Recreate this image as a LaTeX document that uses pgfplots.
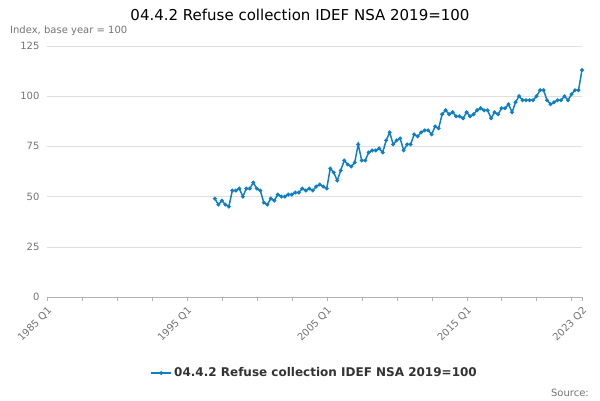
\documentclass[border=0pt]{standalone}
\usepackage{pgfplots}
\pgfplotsset{compat=1.18}
\usepackage{fontspec}
\setmainfont{DejaVu Sans}
\definecolor{ons}{HTML}{0F7FC5}
\begin{document}
\begin{tikzpicture}
\path[use as bounding box] (0,0) rectangle (600pt,400pt);
\node[anchor=north] at (300pt,394pt) {\fontsize{15}{17}\selectfont 04.4.2 Refuse collection IDEF NSA 2019=100};
\node[anchor=north west,text=gray!90!black,inner sep=0] at (10pt,374pt) {\fontsize{10}{12}\selectfont Index, base year = 100};
\node[anchor=south east,text=gray!90!black,inner sep=0] at (589pt,3pt) {\fontsize{10}{12}\selectfont Source:};
\begin{axis}[
  at={(47pt,103pt)}, anchor=south west,
  width=535pt, height=251pt, scale only axis,
  xmin=0, xmax=153, ymin=0, ymax=125,
  axis line style={draw=none},
  axis x line*=bottom,
  x axis line style={draw=gray!60},
  ytick={0,25,...,125},
  ymajorgrids, grid style={gray!25},
  major y tick style={draw=none},
  xtick={0,40,80,120,153},
  xticklabels={1985 Q1,1995 Q1,2005 Q1,2015 Q1,2023 Q2},
  minor xtick={10,20,30,50,60,70,90,100,110,130,140,150},
  x tick label style={rotate=45,anchor=north east,font=\fontsize{10}{12}\selectfont,text=gray!90!black},
  y tick label style={font=\fontsize{10}{12}\selectfont,text=gray!90!black},
  major x tick style={draw=gray!60}, minor x tick style={draw=gray!60},
  tick align=outside, major tick length=4pt, minor tick length=4pt,
  /pgf/number format/assume math mode=true,
  legend style={at={(0.5,-0.265)},anchor=north,draw=none,font=\fontsize{12}{14}\selectfont\bfseries,text=black!80},
  legend image post style={xscale=1.2},
  legend cell align=left,
]
\addplot[ons, line width=1.5pt, mark=*, mark size=1.1pt] coordinates {
(48,49)(49,46)(50,48)(51,46)
(52,45)(53,53)(54,53)(55,54)
(56,50)(57,54)(58,54)(59,57)
(60,54)(61,53)(62,47)(63,46)
(64,49)(65,48)(66,51)(67,50)
(68,50)(69,51)(70,51)(71,52)
(72,52)(73,54)(74,53)(75,54)
(76,53)(77,55)(78,56)(79,55)
(80,54)(81,64)(82,62)(83,58)
(84,63)(85,68)(86,66)(87,65)
(88,67)(89,76)(90,68)(91,68)
(92,72)(93,73)(94,73)(95,74)
(96,72)(97,78)(98,82)(99,76)
(100,78)(101,79)(102,73)(103,76)
(104,76)(105,81)(106,80)(107,82)
(108,83)(109,83)(110,81)(111,85)
(112,84)(113,91)(114,93)(115,91)
(116,92)(117,90)(118,90)(119,89)
(120,92)(121,90)(122,91)(123,93)
(124,94)(125,93)(126,93)(127,89)
(128,92)(129,91)(130,94)(131,94)
(132,96)(133,92)(134,97)(135,100)
(136,98)(137,98)(138,98)(139,98)
(140,100)(141,103)(142,103)(143,98)
(144,96)(145,97)(146,98)(147,98)
(148,100)(149,98)(150,101)(151,103)
(152,103)(153,113)
};
\addlegendentry{04.4.2 Refuse collection IDEF NSA 2019=100}
\end{axis}
\end{tikzpicture}
\end{document}
